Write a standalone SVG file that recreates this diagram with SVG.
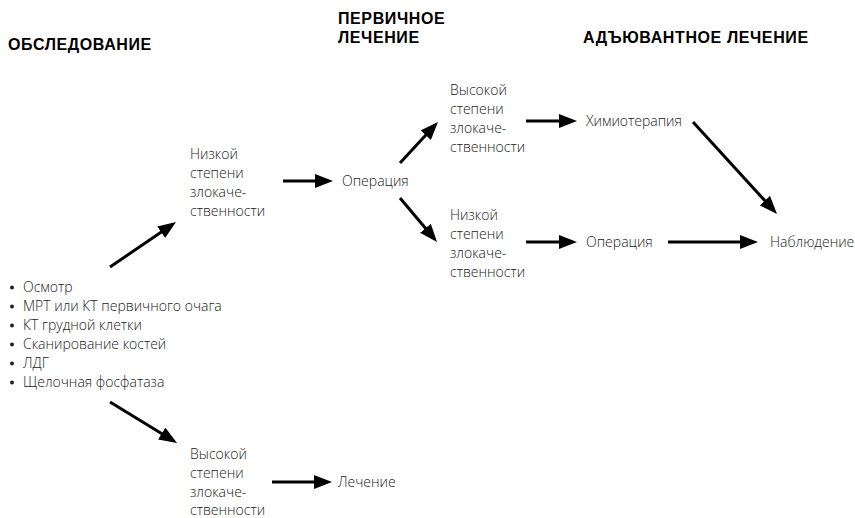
<svg xmlns="http://www.w3.org/2000/svg" width="855" height="518" viewBox="0 0 855 518">
<defs>
<style>
.h{font-family:"Liberation Sans","Open Sans",sans-serif;font-weight:700;font-size:16px;letter-spacing:0.6px;fill:#000}
.t{font-family:"Open Sans","Noto Sans","DejaVu Sans",sans-serif;font-weight:300;font-size:14px;fill:#1a1a1a}
.c{stroke:#000;stroke-width:3;fill:none;marker-end:url(#ah)}
.b{fill:#222}
</style>
<marker id="ah" markerUnits="userSpaceOnUse" markerWidth="18" markerHeight="14" refX="6" refY="7" orient="auto">
<path d="M0,0 L18,7 L0,14 z" fill="#000"/>
</marker>
</defs>
<rect width="855" height="518" fill="#fff"/>
<g id="headers">
<text class="h" x="8" y="50">ОБСЛЕДОВАНИЕ</text>
<text class="h" x="338" y="24">ПЕРВИЧНОЕ</text>
<text class="h" x="338" y="43">ЛЕЧЕНИЕ</text>
<text class="h" x="583" y="43">АДЪЮВАНТНОЕ ЛЕЧЕНИЕ</text>
</g>
<g id="connectors">
<line class="c" x1="110" y1="267" x2="166.1" y2="228.8"/>
<line class="c" x1="110" y1="402" x2="166.8" y2="436.7"/>
<line class="c" x1="283" y1="181" x2="321" y2="181"/>
<line class="c" x1="272" y1="482" x2="320" y2="482"/>
<line class="c" x1="400" y1="163" x2="429.8" y2="130.8"/>
<line class="c" x1="400" y1="198" x2="429.3" y2="232.8"/>
<line class="c" x1="526" y1="121" x2="565" y2="121"/>
<line class="c" x1="526" y1="242" x2="565" y2="242"/>
<line class="c" x1="668" y1="242" x2="746" y2="242"/>
<line class="c" x1="693" y1="122" x2="768.9" y2="205.1"/>
</g>
<g id="exam">
<circle class="b" cx="12" cy="287.5" r="2"/><text class="t" x="23" y="292">Осмотр</text>
<circle class="b" cx="12" cy="306.5" r="2"/><text class="t" x="23" y="311">МРТ или КТ первичного очага</text>
<circle class="b" cx="12" cy="325.5" r="2"/><text class="t" x="23" y="330">КТ грудной клетки</text>
<circle class="b" cx="12" cy="344.5" r="2"/><text class="t" x="23" y="349">Сканирование костей</text>
<circle class="b" cx="12" cy="363.5" r="2"/><text class="t" x="23" y="368">ЛДГ</text>
<circle class="b" cx="12" cy="382.5" r="2"/><text class="t" x="23" y="387">Щелочная фосфатаза</text>
</g>
<g id="low-grade">
<text class="t" x="190" y="159">Низкой</text>
<text class="t" x="190" y="178">степени</text>
<text class="t" x="190" y="197">злокаче-</text>
<text class="t" x="190" y="216">ственности</text>
</g>
<g id="high-grade">
<text class="t" x="190" y="459">Высокой</text>
<text class="t" x="190" y="478">степени</text>
<text class="t" x="190" y="497">злокаче-</text>
<text class="t" x="190" y="515">ственности</text>
</g>
<g id="surgery1">
<text class="t" x="342" y="186">Операция</text>
</g>
<g id="treatment">
<text class="t" x="338" y="487">Лечение</text>
</g>
<g id="high-grade-2">
<text class="t" x="450" y="95">Высокой</text>
<text class="t" x="450" y="114">степени</text>
<text class="t" x="450" y="133">злокаче-</text>
<text class="t" x="450" y="152">ственности</text>
</g>
<g id="low-grade-2">
<text class="t" x="450" y="220">Низкой</text>
<text class="t" x="450" y="239">степени</text>
<text class="t" x="450" y="258">злокаче-</text>
<text class="t" x="450" y="277">ственности</text>
</g>
<g id="chemo">
<text class="t" x="586" y="126">Химиотерапия</text>
</g>
<g id="surgery2">
<text class="t" x="586" y="247">Операция</text>
</g>
<g id="observation">
<text class="t" x="770" y="247">Наблюдение</text>
</g>
</svg>
